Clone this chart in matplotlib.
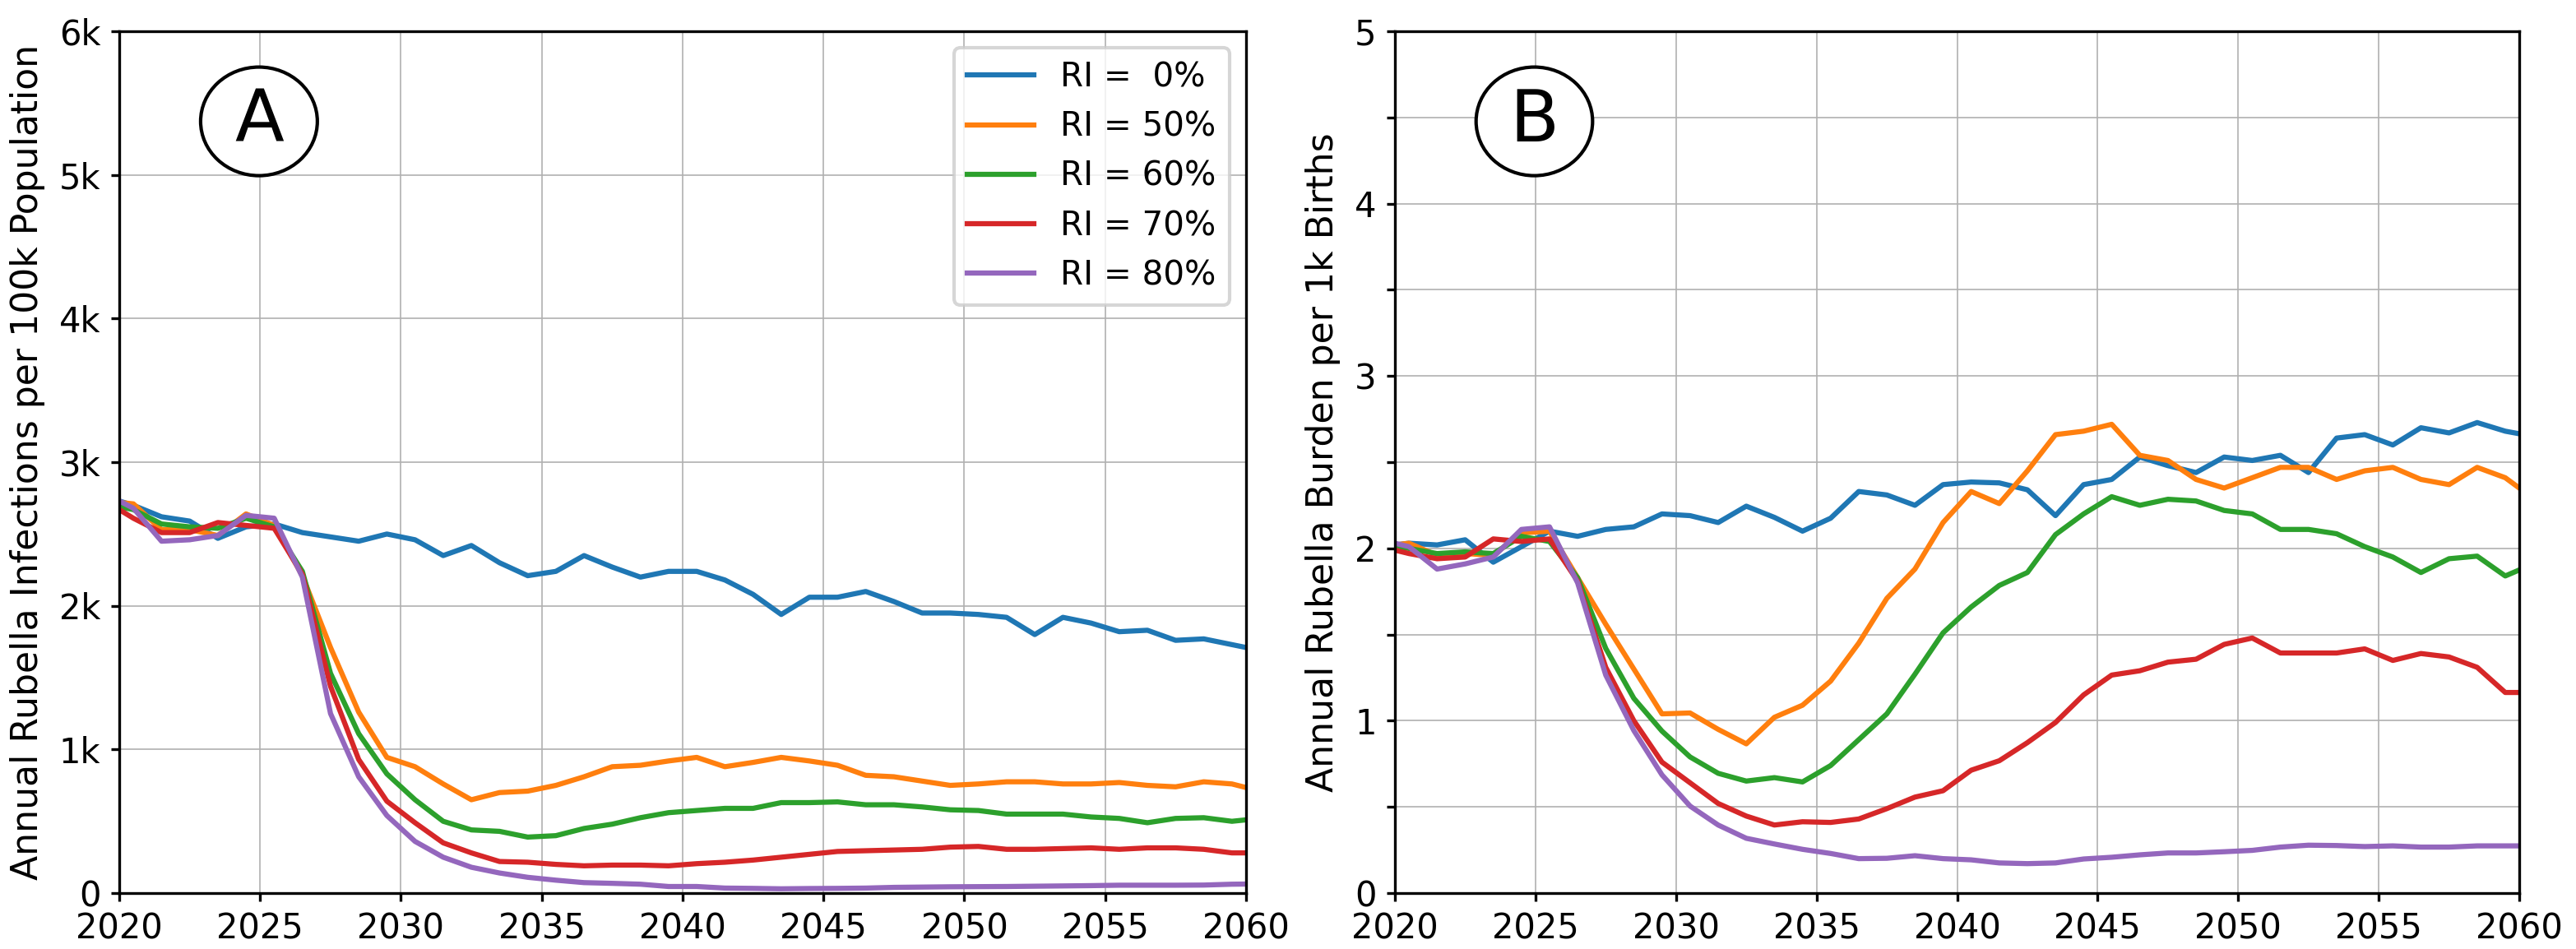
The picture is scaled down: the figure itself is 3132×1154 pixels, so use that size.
from matplotlib import pyplot as plt
from matplotlib.patches import Ellipse
from matplotlib.ticker import FuncFormatter
import numpy as np

# mid-year time points (the first/last ones are clipped by xlim)
years = np.arange(2019, 2061) + 0.5
ri_levels = [0, 50, 60, 70, 80]
colors = ['#1f77b4', '#ff7f0e', '#2ca02c', '#d62728', '#9467bd']

# Panel A: annual infections per 100k population (in thousands)
inf_ri0 = [2.76, 2.70, 2.62, 2.59, 2.47, 2.55, 2.57, 2.51, 2.48, 2.45,
           2.50, 2.46, 2.35, 2.42, 2.30, 2.21, 2.24, 2.35, 2.27, 2.20,
           2.24, 2.24, 2.18, 2.08, 1.94, 2.06, 2.06, 2.10, 2.03, 1.95,
           1.95, 1.94, 1.92, 1.80, 1.92, 1.88, 1.82, 1.83, 1.76, 1.77,
           1.73, 1.69]
inf_ri50 = [2.73, 2.71, 2.53, 2.53, 2.49, 2.64, 2.56, 2.21, 1.71, 1.26,
            0.945, 0.88, 0.76, 0.65, 0.70, 0.71, 0.75, 0.81, 0.88, 0.89,
            0.92, 0.945, 0.88, 0.91, 0.945, 0.92, 0.89, 0.82, 0.81, 0.78,
            0.75, 0.76, 0.775, 0.775, 0.76, 0.76, 0.77, 0.75, 0.74, 0.775,
            0.76, 0.71]
inf_ri60 = [2.71, 2.67, 2.57, 2.55, 2.54, 2.61, 2.55, 2.24, 1.53, 1.11,
            0.83, 0.65, 0.50, 0.44, 0.43, 0.39, 0.40, 0.45, 0.48, 0.525,
            0.56, 0.575, 0.59, 0.59, 0.63, 0.63, 0.635, 0.615, 0.615, 0.60,
            0.58, 0.575, 0.55, 0.55, 0.55, 0.53, 0.52, 0.49, 0.52, 0.525,
            0.50, 0.52]
inf_ri70 = [2.73, 2.61, 2.51, 2.51, 2.58, 2.56, 2.54, 2.22, 1.44, 0.93,
            0.64, 0.49, 0.35, 0.28, 0.22, 0.215, 0.20, 0.19, 0.195, 0.195,
            0.19, 0.205, 0.215, 0.23, 0.25, 0.27, 0.29, 0.295, 0.30, 0.305,
            0.32, 0.325, 0.305, 0.305, 0.31, 0.315, 0.305, 0.315, 0.315, 0.305,
            0.28, 0.28]
inf_ri80 = [2.78, 2.68, 2.45, 2.46, 2.49, 2.63, 2.61, 2.20, 1.25, 0.81,
            0.54, 0.36, 0.25, 0.18, 0.14, 0.11, 0.09, 0.073, 0.068, 0.062,
            0.046, 0.046, 0.035, 0.033, 0.03, 0.032, 0.033, 0.035, 0.04, 0.042,
            0.044, 0.045, 0.046, 0.048, 0.05, 0.052, 0.055, 0.055, 0.055, 0.056,
            0.062, 0.064]

# Panel B: annual CRS burden per 1k births
crs_ri0 = [2.01, 2.03, 2.02, 2.05, 1.92, 2.01, 2.10, 2.07, 2.11, 2.125,
           2.20, 2.19, 2.15, 2.245, 2.18, 2.10, 2.175, 2.33, 2.31, 2.25,
           2.37, 2.385, 2.38, 2.34, 2.19, 2.37, 2.40, 2.53, 2.48, 2.44,
           2.53, 2.51, 2.54, 2.44, 2.64, 2.66, 2.60, 2.70, 2.67, 2.73,
           2.68, 2.65]
crs_ri50 = [2.01, 2.03, 1.96, 1.97, 1.96, 2.09, 2.10, 1.83, 1.56, 1.30,
            1.04, 1.045, 0.95, 0.866, 1.02, 1.09, 1.23, 1.45, 1.71, 1.88,
            2.15, 2.33, 2.26, 2.45, 2.66, 2.68, 2.72, 2.54, 2.51, 2.40,
            2.35, 2.41, 2.47, 2.47, 2.40, 2.45, 2.47, 2.40, 2.37, 2.47,
            2.41, 2.29]
crs_ri60 = [2.02, 2.00, 1.97, 1.98, 1.97, 2.07, 2.04, 1.83, 1.42, 1.13,
            0.94, 0.79, 0.695, 0.65, 0.67, 0.645, 0.74, 0.89, 1.04, 1.27,
            1.51, 1.66, 1.785, 1.86, 2.08, 2.20, 2.30, 2.25, 2.285, 2.275,
            2.22, 2.20, 2.11, 2.11, 2.085, 2.01, 1.95, 1.86, 1.94, 1.955,
            1.84, 1.91]
crs_ri70 = [2.01, 1.97, 1.94, 1.95, 2.055, 2.04, 2.055, 1.81, 1.31, 1.00,
            0.76, 0.64, 0.52, 0.447, 0.395, 0.414, 0.41, 0.43, 0.49, 0.557,
            0.594, 0.713, 0.768, 0.873, 0.99, 1.15, 1.265, 1.29, 1.34, 1.357,
            1.443, 1.48, 1.393, 1.393, 1.393, 1.417, 1.35, 1.39, 1.37, 1.31,
            1.164, 1.164]
crs_ri80 = [2.05, 2.01, 1.88, 1.91, 1.95, 2.11, 2.125, 1.80, 1.265, 0.943,
            0.686, 0.505, 0.395, 0.318, 0.285, 0.254, 0.23, 0.20, 0.202, 0.217,
            0.20, 0.193, 0.175, 0.171, 0.175, 0.198, 0.208, 0.222, 0.233, 0.233,
            0.24, 0.248, 0.267, 0.278, 0.276, 0.27, 0.274, 0.267, 0.267, 0.274,
            0.274, 0.274]

inf_series = [inf_ri0, inf_ri50, inf_ri60, inf_ri70, inf_ri80]
crs_series = [crs_ri0, crs_ri50, crs_ri60, crs_ri70, crs_ri80]
x_ticks = [2020, 2025, 2030, 2035, 2040, 2045, 2050, 2055, 2060]


def panel_tag(ax, letter):
    # circled panel letter (ellipse in axes coords)
    ax.add_patch(Ellipse((0.124, 0.8955), 0.1036, 0.126, transform=ax.transAxes,
                         fc='white', ec='black', lw=1.0, zorder=5))
    ax.text(0.124, 0.8955, letter, transform=ax.transAxes, fontsize=21,
            ha='center', va='center', zorder=6)


def draw_panel(ax, series, ylabel):
    for vals, ri, c in zip(series, ri_levels, colors):
        ax.plot(years, vals, color=c, linewidth=1.5, label=f'RI = {ri:2d}%')
    ax.set_xlim(2020, 2060)
    ax.set_xticks(x_ticks)
    ax.set_ylabel(ylabel, fontsize=10.6)
    ax.tick_params(labelsize=10, length=2.4, pad=3)
    ax.grid(True, linewidth=0.4, color='#b0b0b0')


fig = plt.figure(figsize=(10.44, 3.8467), dpi=300)
ax_a = fig.add_axes([0.0463, 0.0589, 0.4374, 0.9081])
ax_b = fig.add_axes([0.5415, 0.0589, 0.4365, 0.9081])

draw_panel(ax_a, inf_series, 'Annual Rubella Infections per 100k Population')
ax_a.set_ylim(0, 6)
ax_a.set_yticks(range(7))
ax_a.yaxis.set_major_formatter(FuncFormatter(lambda v, p: '0' if v == 0 else f'{int(v)}k'))
ax_a.legend(loc='upper right', fontsize=9.7)
panel_tag(ax_a, 'A')

draw_panel(ax_b, crs_series, 'Annual Rubella Burden per 1k Births')
ax_b.set_ylim(0, 5)
ax_b.set_yticks(np.arange(0, 5.5, 0.5))
ax_b.yaxis.set_major_formatter(FuncFormatter(lambda v, p: f'{int(v)}' if v == int(v) else ''))
panel_tag(ax_b, 'B')

fig.savefig('out.png', dpi=300)
